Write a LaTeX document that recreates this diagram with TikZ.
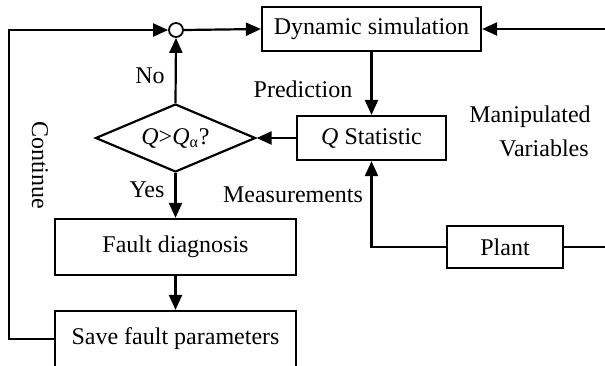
\documentclass[tikz,border=0pt]{standalone}
\usepackage{fontspec}
\setmainfont{Liberation Serif}
\usetikzlibrary{shapes.geometric,arrows.meta}
\begin{document}
\begin{tikzpicture}[x=0.5pt, y=-0.5pt,
        font=\fontsize{12}{14}\selectfont,
        block/.style={rectangle, draw, line width=1.1pt, inner sep=0pt},
        arrow/.style={line width=1.1pt, -{Triangle[length=7.5pt,width=6.5pt]}},
        line/.style={line width=1.1pt},
        lbl/.style={inner sep=0pt}]
        \useasboundingbox (0,0) rectangle (605,365);
        \clip (0,0) rectangle (605,365);

        \node[block, minimum width=109.5pt, minimum height=22pt] (dyn) at (371.5, 29) {Dynamic simulation};
        \node[block, minimum width=74.5pt, minimum height=22pt] (qstat) at (371.5, 138) {\textit{Q} Statistic};
        \node[block, minimum width=58pt, minimum height=21pt] (plant) at (505, 247) {Plant};
        \node[block, minimum width=120.5pt, minimum height=28pt] (fault) at (175.5, 247) {Fault diagnosis};
        \node[block, minimum width=120.5pt, minimum height=28pt] (save) at (175.5, 339) {Save fault parameters};
        \node[diamond, draw, line width=1.1pt, inner sep=0pt, aspect=2.35, minimum width=80pt, minimum height=34pt] (dia) at (175.5, 138) {\textit{Q}>\textit{Q}\textsubscript{α}?};
        \node[circle, draw, line width=0.9pt, inner sep=0pt, minimum size=7pt] (sum) at (176, 30) {};

        \coordinate (tl) at (9, 30);
        \coordinate (mv) at (605, 29);
        \coordinate (pr) at (605, 247);

        \draw[arrow] (save.west) -| (tl) -- (sum.west);
        \draw[arrow] (sum.east) -- (dyn.west);
        \draw[arrow] (mv) -- (dyn.east);
        \draw[arrow] (dyn) -- (qstat);
        \draw[arrow] (qstat) -- (dia.east);
        \draw[arrow] (dia.north) -- (sum.south);
        \draw[arrow] (dia.south) -- (fault);
        \draw[arrow] (fault) -- (save);
        \draw[arrow] (plant.west) -| (qstat.south);
        \draw[line] (plant.east) -- (pr);

        \node[lbl] (no) at (150, 76) {No};
        \node[lbl] (yes) at (147, 190) {Yes};
        \node[lbl] (pred) at (303, 89) {Prediction};
        \node[lbl] (meas) at (293, 195) {Measurements};
        \node[lbl] (manip) at (530, 117) {Manipulated};
        \node[lbl] (vars) at (544, 148) {Variables};
        \node[lbl, rotate=-90] (cont) at (40, 165) {Continue};

    \end{tikzpicture}
\end{document}
